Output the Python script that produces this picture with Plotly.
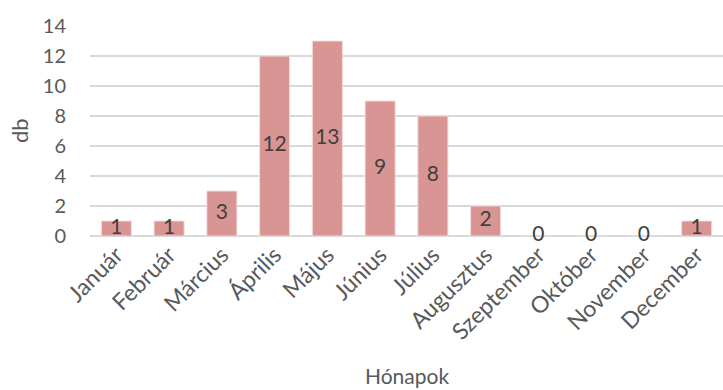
import plotly.graph_objects as go

months = ["Január", "Február", "Március", "Április", "Május", "Június",
          "Július", "Augusztus", "Szeptember", "Október", "November", "December"]
counts = [1, 1, 3, 12, 13, 9, 8, 2, 0, 0, 0, 1]
yticks = [0, 2, 4, 6, 8, 10, 12, 14]

FONT = "Lato"
TXT = "#595959"

fig = go.Figure()
fig.add_trace(go.Bar(
    x=months, y=counts,
    marker=dict(color="#D99594", line=dict(color="#F2DCDB", width=1)),
    hoverinfo="skip",
))
fig.add_trace(go.Scatter(
    x=months, y=[v / 2 for v in counts], mode="text",
    text=[str(v) for v in counts],
    textfont=dict(family=FONT, size=21, color="#404040"),
    textposition="middle center", hoverinfo="skip", cliponaxis=False,
))
fig.update_layout(
    width=723, height=390,
    margin=dict(l=90, r=0, t=26, b=154, autoexpand=False),
    paper_bgcolor="white", plot_bgcolor="white",
    showlegend=False, bargap=0.43,
    font=dict(family=FONT, size=20, color=TXT),
    annotations=[
        dict(text="db", xref="paper", yref="paper", x=0, y=0.5, xshift=-71,
             xanchor="center", yanchor="middle", textangle=-90, showarrow=False,
             font=dict(family=FONT, size=22, color=TXT)),
        dict(text="Hónapok", xref="paper", yref="paper", x=0.5, y=0, yshift=-139,
             xanchor="center", yanchor="middle", showarrow=False,
             font=dict(family=FONT, size=21, color=TXT)),
    ],
)
fig.update_xaxes(
    range=[-0.5, 11.5],
    tickangle=-45, showgrid=False, showline=False, ticks="", automargin=False,
    tickfont=dict(family=FONT, size=23, color=TXT),
)
fig.update_yaxes(
    range=[0, 14], tickvals=yticks, showgrid=True, gridcolor="#D9D9D9", gridwidth=1.5,
    zeroline=True, zerolinecolor="#D9D9D9", zerolinewidth=1.5, automargin=False,
    tickfont=dict(family=FONT, size=20, color=TXT), ticks="", ticklabelstandoff=23,
)
fig.write_html("out.html")
